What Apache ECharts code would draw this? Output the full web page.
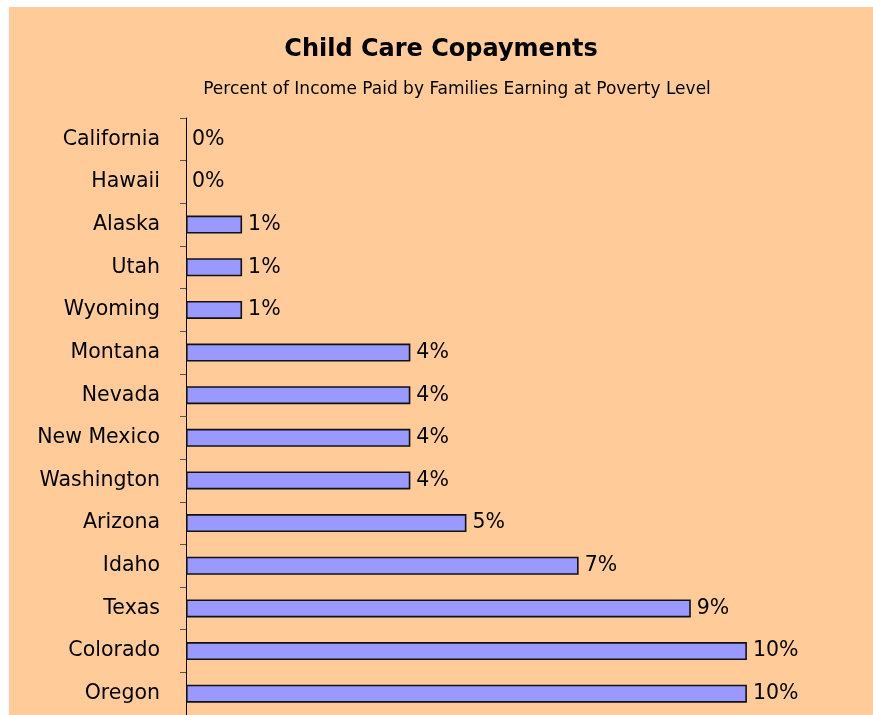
<!DOCTYPE html>
<html>
<head>
<meta charset="utf-8">
<script src="https://cdn.jsdelivr.net/npm/echarts@6/dist/echarts.min.js"></script>
<style>
  html, body { margin: 0; padding: 0; background: #ffffff; }
  #chart { position: absolute; left: 9px; top: 7px; width: 864px; height: 708px; }
</style>
</head>
<body>
<div id="chart"></div>
<script>
// states, top to bottom as shown
const states = ['California', 'Hawaii', 'Alaska', 'Utah', 'Wyoming', 'Montana', 'Nevada',
  'New Mexico', 'Washington', 'Arizona', 'Idaho', 'Texas', 'Colorado', 'Oregon']
// percent of income paid
const copay = [0, 0, 1, 1, 1, 4, 4, 4, 4, 5, 7, 9, 10, 10]

const chart = echarts.init(document.getElementById('chart'))

// no outline for zero-length bars
const barData = copay.map(v => v === 0 ? { value: v, itemStyle: { borderWidth: 0 } } : v)

const option = {
  backgroundColor: '#FFCC99',
  animation: false,
  title: [
    {
      text: 'Child Care Copayments',
      left: 'center',
      top: 26,
      textStyle: { fontFamily: 'DejaVu Sans', fontSize: 24, fontWeight: 'bold', color: '#000' }
    },
    {
      text: 'Percent of Income Paid by Families Earning at Poverty Level',
      left: 443,
      textAlign: 'center',
      top: 69,
      textStyle: { fontFamily: 'DejaVu Sans', fontSize: 17, fontWeight: 'normal', color: '#000' }
    }
  ],
  grid: {
    left: 177,
    top: 111,
    width: 617,
    height: 601.5,
    containLabel: false
  },
  xAxis: {
    type: 'value',
    min: 0,
    max: 11,
    show: false
  },
  yAxis: {
    type: 'category',
    inverse: true,
    data: states,
    axisLine: { show: true, lineStyle: { color: '#000', width: 1 } },
    axisTick: { show: true, length: 6, lineStyle: { color: '#555' } },
    axisLabel: {
      margin: 26,
      fontFamily: 'DejaVu Sans',
      fontSize: 20.5,
      color: '#000'
    }
  },
  series: [
    {
      type: 'bar',
      data: barData,
      barWidth: 18,
      itemStyle: { color: '#9999FF', borderColor: '#111', borderWidth: 1.6 },
      label: {
        show: true,
        position: 'right',
        distance: 6,
        formatter: p => p.value + '%',
        fontFamily: 'DejaVu Sans',
        fontSize: 20.5,
        color: '#000'
      }
    }
  ]
}

chart.setOption(option)
</script>
</body>
</html>
